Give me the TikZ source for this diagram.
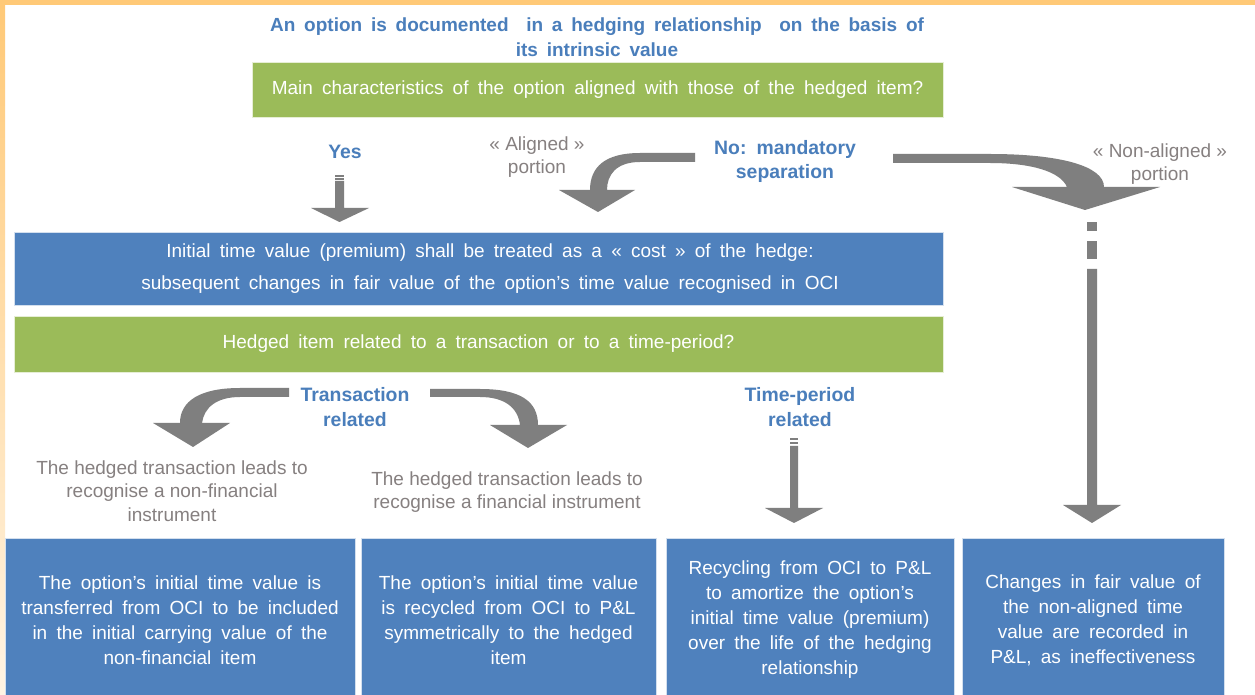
\documentclass[tikz,border=0pt]{standalone}
\usepackage{fontspec}
\setmainfont{Liberation Sans}
\definecolor{boxblue}{HTML}{4F81BD}
\definecolor{boxgreen}{HTML}{9BBB59}
\definecolor{arrgray}{HTML}{7F7F7F}
\definecolor{txtblue}{HTML}{4A7EBB}
\definecolor{lblgray}{HTML}{868080}
\definecolor{frameor}{HTML}{FFC977}
\definecolor{framelt}{HTML}{FFF4E4}
\newcommand\bodyfont{\fontsize{9.5}{12.5}\selectfont\spaceskip=4.6pt plus 1pt minus 0.5pt\relax}
\newcommand\lblfont{\fontsize{9.5}{11.7}\selectfont}
\newcommand\boldlblfont{\fontsize{9.7}{12.2}\selectfont\bfseries\spaceskip=4.2pt plus 1pt minus 0.5pt\relax}
\newcommand\titlefont{\fontsize{9.5}{12.5}\selectfont\bfseries\spaceskip=4.4pt plus 1pt minus 0.5pt\relax}
\begin{document}
\begin{tikzpicture}[x=0.5pt,y=-0.5pt,
  bluebox/.style={fill=boxblue,draw=white!75!boxblue,line width=0.4pt,text=white,font=\bodyfont,align=center,inner sep=0pt},
  greenbox/.style={fill=boxgreen,draw=white!75!boxgreen,line width=0.4pt,text=white,font=\bodyfont,align=center,inner sep=0pt},
  boxtext/.style={text=white,font=\bodyfont,align=center,inner sep=0pt},
  bluelbl/.style={text=txtblue,font=\boldlblfont,align=center,inner sep=0pt},
  titlelbl/.style={text=txtblue,font=\titlefont,align=center,inner sep=0pt},
  graylbl/.style={text=lblgray,font=\lblfont,align=center,inner sep=0pt},
  blockarrow/.style={fill=arrgray,draw=none}]
\useasboundingbox (0,0) rectangle (1255,695);
% frame
\fill[white] (0,0) rectangle (1255,695);
\fill[frameor] (0,0) rectangle (1255,5);
\shade[top color=frameor,bottom color=framelt] (0,0) rectangle (5,695);

% title
\node[titlelbl] (title) at (597,37) {An option is documented\ \ in a hedging relationship\ \ on the basis of\\its intrinsic value};

% boxes
\node[greenbox,minimum width=345.5pt,minimum height=27.5pt] (q1) at (597.5,89.5) {Main characteristics of the option aligned with those of the hedged item?};
\node[bluebox,minimum width=464.5pt,minimum height=36.5pt] (cost) at (478.5,268.5) {};
\node[boxtext] (costtxt) at (490,269) {Initial time value (premium) shall be treated as a « cost » of the hedge:\\[3.5pt] subsequent changes in fair value of the option’s time value recognised in OCI};
\node[greenbox,minimum width=464.5pt,minimum height=28pt] (q2) at (478.5,344) {Hedged item related to a transaction or to a time-period?};

\node[bluebox,minimum width=175pt,minimum height=82pt] (r1) at (180,620) {The option’s initial time value is\\transferred from OCI to be included\\in the initial carrying value of the\\non-financial item};
\node[bluebox,minimum width=147.5pt,minimum height=82pt] (r2) at (508.5,620) {The option’s initial time value\\is recycled from OCI to P\&L\\symmetrically to the hedged\\item};
\node[bluebox,minimum width=144pt,minimum height=82pt] (r3) at (810,620) {Recycling from OCI to P\&L\\to amortize the option’s\\initial time value (premium)\\over the life of the hedging\\relationship};
\node[bluebox,minimum width=131pt,minimum height=82pt] (r4) at (1093,620) {Changes in fair value of\\the non-aligned time\\value are recorded in\\P\&L, as ineffectiveness};

% labels
\node[bluelbl] (yes) at (345,152) {Yes};
\node[graylbl] (alig) at (537,157) {« Aligned »\\portion};
\node[bluelbl] (no) at (785,161.5) {No: mandatory\\separation};
\node[graylbl] (nonal) at (1160,164) {« Non-aligned »\\portion};
\node[bluelbl] (trans) at (355,407) {Transaction\\related};
\node[bluelbl] (timep) at (800,407) {Time-period\\related};
\node[graylbl] (nonfin) at (172,491) {The hedged transaction leads to\\recognise a non-financial\\instrument};
\node[graylbl] (fin) at (507,492) {The hedged transaction leads to\\recognise a financial instrument};

% Yes arrow
\fill[arrgray] (335,175) rectangle (344,177);
\fill[arrgray] (335,178) rectangle (344,180);
\fill[blockarrow] (335,181) -- (344,181) -- (344,208) -- (369,208) -- (339.5,222) -- (311,208) -- (335,208) -- cycle;

% aligned curved arrow
\fill[blockarrow] (695,153) -- (640,153) .. controls (605,153) and (590,167) .. (590,190) -- (559,190) -- (598,212) -- (635,190) -- (607,190) .. controls (607,175) and (616,162) .. (640,162) -- (695,162) -- cycle;

% non-aligned curved arrow
\fill[blockarrow] (893,154) -- (990,154) .. controls (1060,154) and (1104,166) .. (1104,187) -- (1160,187) -- (1085,210) -- (1012,187) -- (1067,187) .. controls (1060,171) and (1030,163) .. (990,163) -- (893,163) -- cycle;

% non-aligned vertical dashed arrow
\fill[arrgray] (1087,222) rectangle (1097,231);
\fill[arrgray] (1087,241) rectangle (1097,259);
\fill[blockarrow] (1087,269) -- (1097,269) -- (1097,505) -- (1121,505) -- (1092,523) -- (1063,505) -- (1087,505) -- cycle;

% transaction left arrow
\fill[blockarrow] (289,388) -- (240,388) .. controls (200,388) and (180,401) .. (180,423) -- (153,423) -- (193,447) -- (230,423) -- (202,423) .. controls (204,408) and (216,397) .. (240,397) -- (289,397) -- cycle;

% transaction right arrow
\fill[blockarrow] (430,389) -- (480,389) .. controls (520,389) and (538,401) .. (538,425) -- (567,425) -- (528,448) -- (490,425) -- (520,425) .. controls (518,408) and (505,397) .. (480,397) -- (430,397) -- cycle;

% time-period arrow
\fill[arrgray] (790,438) rectangle (798,440);
\fill[arrgray] (790,442) rectangle (798,444);
\fill[blockarrow] (790,446) -- (798,446) -- (798,508) -- (823,508) -- (794,523) -- (765,508) -- (790,508) -- cycle;
\end{tikzpicture}
\end{document}
